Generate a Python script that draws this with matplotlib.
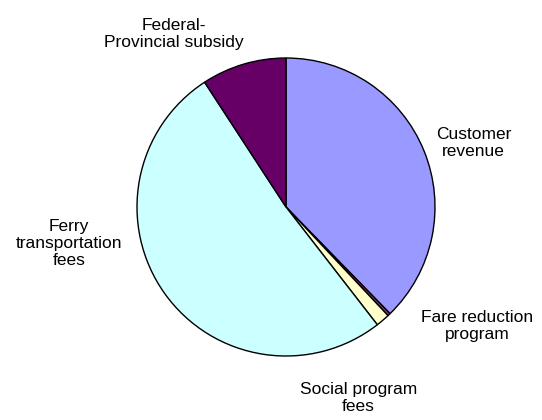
import matplotlib.pyplot as plt

# slice data, clockwise from 12 o'clock
labels = ['Customer\nrevenue', 'Fare reduction\nprogram', 'Social program\nfees',
          'Ferry\ntransportation\nfees', 'Federal-\nProvincial subsidy']
shares = [37.7, 0.3, 1.5, 51.3, 9.2]
colors = ['#9999FF', '#993366', '#FFFFCC', '#CCFFFF', '#660066']

# label positions (in pie-radius units)
label_pos = [(1.258, 0.43), (1.285, -0.80), (0.487, -1.282),
             (-1.455, -0.245), (-0.752, 1.161)]

W, H = 542, 420
cx, cy, r = 286, 207, 149

fig = plt.figure(figsize=(W / 100, H / 100), dpi=100)
ax = fig.add_axes([0, 0, 1, 1])

ax.pie(shares, colors=colors, startangle=90, counterclock=False, radius=1,
       wedgeprops=dict(edgecolor='black', linewidth=1.0))

for lab, (x, y) in zip(labels, label_pos):
    ax.text(x, y, lab, ha='center', va='center', fontsize=12.5,
            family='Liberation Sans', linespacing=1.2)

ax.set_xlim(-cx / r, (W - cx) / r)
ax.set_ylim(-(H - cy) / r, cy / r)
ax.set_aspect('auto')
ax.axis('off')

fig.savefig('out.png', dpi=100)
